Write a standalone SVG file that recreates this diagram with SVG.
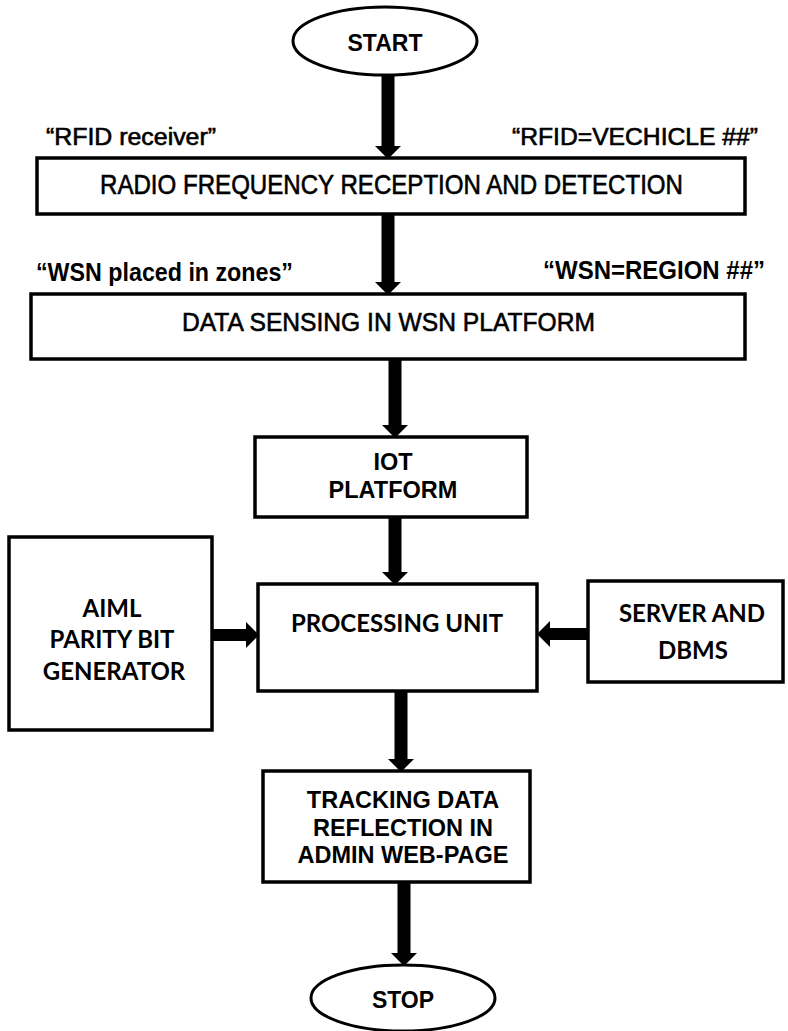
<svg xmlns="http://www.w3.org/2000/svg" width="788" height="1031" viewBox="0 0 788 1031">
  <style>
    .box { fill: #fff; stroke: #000; stroke-width: 3.5; }
    .term { fill: #fff; stroke: #000; stroke-width: 3; }
    .conn { stroke: #000; stroke-width: 13; fill: none; }
    .ar { font-family: "Liberation Sans", Arial, sans-serif; font-weight: bold; fill: #000; text-anchor: middle; }
    .nar { font-family: "Liberation Sans Narrow", "Liberation Sans", Arial, sans-serif; fill: #000; stroke: #000; stroke-width: 0.6; }
    .narb { font-family: "Liberation Sans Narrow", "Liberation Sans", Arial, sans-serif; font-weight: bold; fill: #000; }
    .cal { font-family: Lato, "Open Sans", "Liberation Sans", sans-serif; font-weight: bold; fill: #000; text-anchor: middle; }
  </style>
  <defs>
    <marker id="head" markerUnits="userSpaceOnUse" markerWidth="13" markerHeight="26" refX="0" refY="13" orient="auto" viewBox="0 0 13 26">
      <path d="M0,0 L13,13 L0,26 Z" fill="#000"/>
    </marker>
  </defs>

  <rect width="788" height="1031" fill="#fff"/>

  <!-- connectors -->
  <g id="connectors">
    <line class="conn" x1="388" y1="76" x2="388" y2="146" marker-end="url(#head)"/>
    <line class="conn" x1="388" y1="214" x2="388" y2="282" marker-end="url(#head)"/>
    <line class="conn" x1="395" y1="359" x2="395" y2="425" marker-end="url(#head)"/>
    <line class="conn" x1="395" y1="517" x2="395" y2="572" marker-end="url(#head)"/>
    <line class="conn" x1="401" y1="691" x2="401" y2="759" marker-end="url(#head)"/>
    <line class="conn" x1="404" y1="882" x2="404" y2="953" marker-end="url(#head)"/>
    <line class="conn" style="stroke-width:12" x1="212" y1="635" x2="246" y2="635" marker-end="url(#head)"/>
    <line class="conn" style="stroke-width:12" x1="588" y1="634" x2="550" y2="634" marker-end="url(#head)"/>
  </g>

  <!-- start terminal -->
  <g id="start">
    <ellipse class="term" cx="385" cy="41" rx="92" ry="34"/>
    <text class="ar" x="385" y="51" font-size="23">START</text>
  </g>

  <!-- side notes -->
  <g id="notes">
    <text class="nar" x="46" y="145" font-size="23" textLength="170" lengthAdjust="spacingAndGlyphs">“RFID receiver”</text>
    <text class="nar" x="512" y="145" font-size="23" textLength="246" lengthAdjust="spacingAndGlyphs">“RFID=VECHICLE ##”</text>
    <text class="narb" x="36" y="281" font-size="25" textLength="257" lengthAdjust="spacingAndGlyphs">“WSN placed in zones”</text>
    <text class="narb" x="543" y="279" font-size="25" textLength="222" lengthAdjust="spacingAndGlyphs">“WSN=REGION ##”</text>
  </g>

  <!-- reception -->
  <g id="reception">
    <rect class="box" x="37" y="158" width="708" height="56"/>
    <text class="nar" x="100" y="194" font-size="27.5" textLength="583" lengthAdjust="spacingAndGlyphs">RADIO FREQUENCY RECEPTION AND DETECTION</text>
  </g>

  <!-- sensing -->
  <g id="sensing">
    <rect class="box" x="31" y="294" width="714" height="65"/>
    <text class="nar" x="182" y="331" font-size="26.5" textLength="413" lengthAdjust="spacingAndGlyphs">DATA SENSING IN WSN PLATFORM</text>
  </g>

  <!-- iot -->
  <g id="iot">
    <rect class="box" x="255" y="437" width="272" height="80"/>
    <text class="ar" x="393" y="470" font-size="23.5">IOT</text>
    <text class="ar" x="393" y="498" font-size="23.5">PLATFORM</text>
  </g>

  <!-- aiml -->
  <g id="aiml">
    <rect class="box" x="9" y="537" width="203" height="193"/>
    <text class="cal" x="112" y="617" font-size="24">AIML</text>
    <text class="cal" x="112" y="648" font-size="24">PARITY BIT</text>
    <text class="cal" x="114" y="680" font-size="24">GENERATOR</text>
  </g>

  <!-- processing -->
  <g id="processing">
    <rect class="box" x="258" y="584" width="279" height="107"/>
    <text class="cal" x="397" y="632" font-size="24">PROCESSING UNIT</text>
  </g>

  <!-- server -->
  <g id="server">
    <rect class="box" x="588" y="581" width="195" height="101"/>
    <text class="cal" x="692" y="622" font-size="24">SERVER AND</text>
    <text class="cal" x="693" y="659" font-size="24">DBMS</text>
  </g>

  <!-- tracking -->
  <g id="tracking">
    <rect class="box" x="263" y="771" width="267" height="111"/>
    <text class="ar" x="403" y="808" font-size="23.5">TRACKING DATA</text>
    <text class="ar" x="403" y="836" font-size="23.5">REFLECTION IN</text>
    <text class="ar" x="403" y="863" font-size="23.5">ADMIN WEB-PAGE</text>
  </g>

  <!-- stop terminal -->
  <g id="stop">
    <ellipse class="term" cx="403" cy="998" rx="92" ry="33"/>
    <text class="ar" x="403" y="1008" font-size="23">STOP</text>
  </g>
</svg>
